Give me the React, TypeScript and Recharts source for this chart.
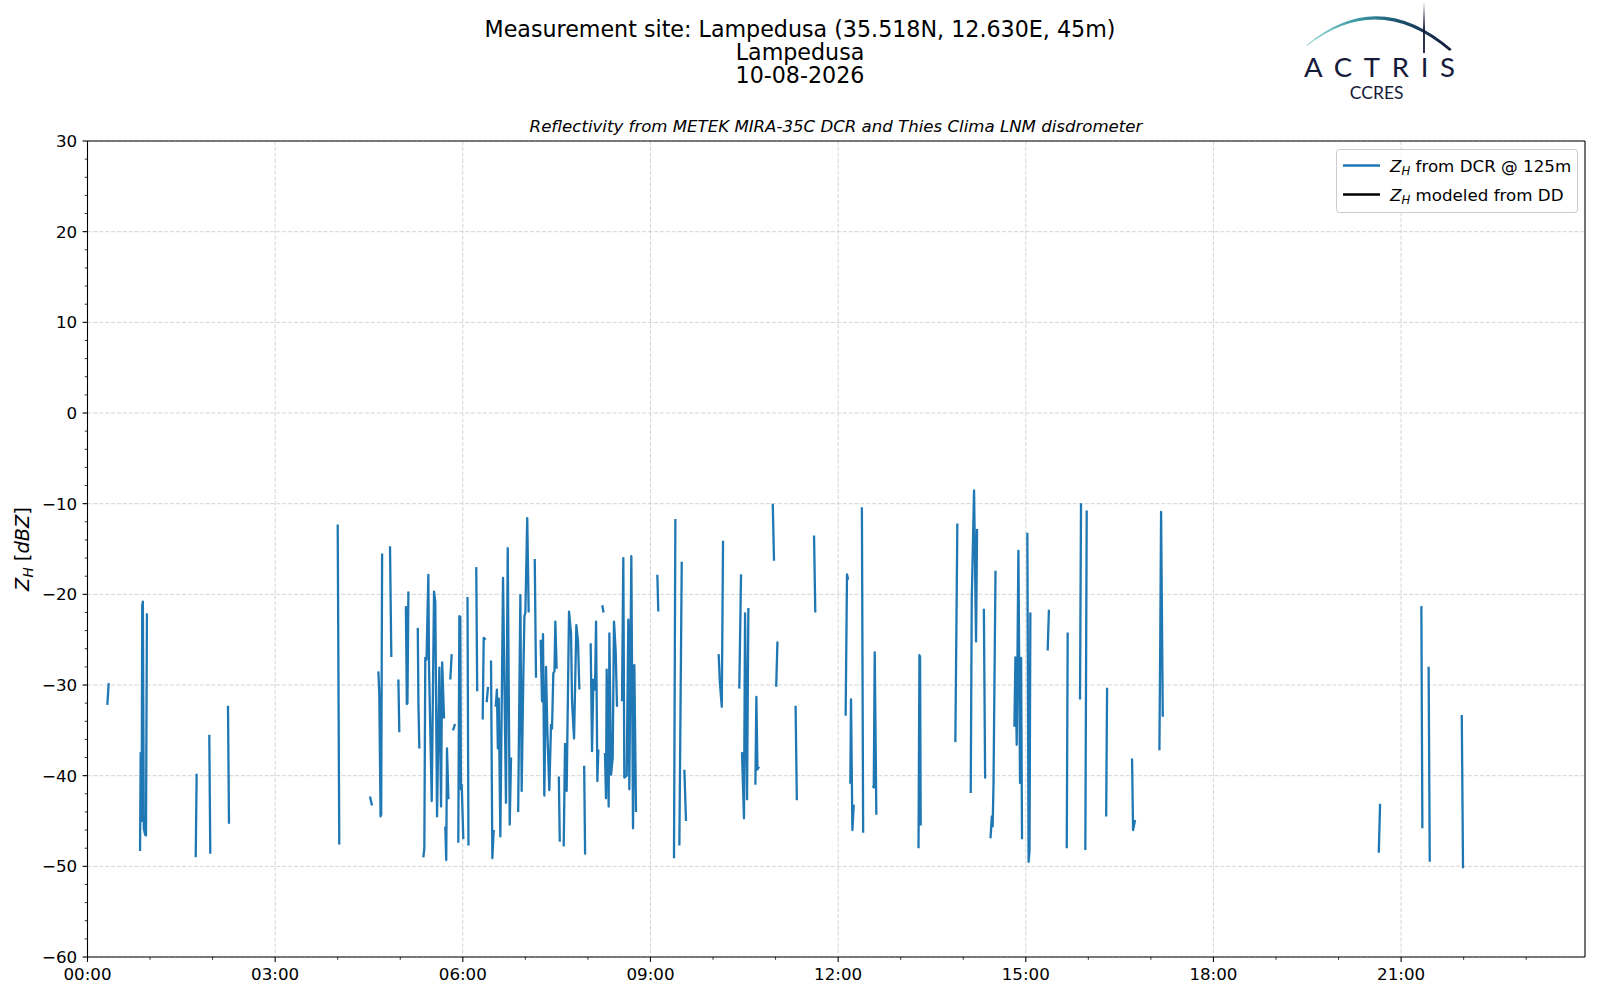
import React from 'react'
import { LineChart, Line, XAxis, YAxis, CartesianGrid, ReferenceLine } from 'recharts'

// DCR reflectivity at 125 m, [hour of day, dBZ]; each inner list is one contiguous piece
const seg00to03 = [
  [[0.317, -32.2], [0.339, -29.8]],
  [[0.84, -48.3], [0.85, -37.5], [0.865, -45.0], [0.875, -21.2], [0.885, -20.8], [0.9, -45.8], [0.92, -46.5], [0.935, -46.6], [0.95, -22.1]],
  [[1.73, -49.0], [1.745, -39.8]],
  [[1.947, -35.5], [1.963, -48.6]],
  [[2.246, -32.3], [2.262, -45.3]],
]

const seg03to06 = [
  [[4.0, -12.3], [4.025, -47.6]],
  [[4.516, -42.3], [4.548, -43.3]],
  [[4.65, -28.5], [4.665, -31.0], [4.685, -44.5], [4.695, -44.3], [4.71, -15.5]],
  [[4.836, -14.7], [4.857, -26.9]],
  [[4.97, -29.4], [4.985, -35.2]],
  [[5.09, -21.3], [5.105, -32.1], [5.115, -32.0], [5.13, -19.7]],
  [[5.28, -23.7], [5.29, -31.9], [5.305, -37.0]],
  [[5.369, -49.0], [5.385, -48.0], [5.4, -27.0], [5.42, -27.2], [5.449, -17.85], [5.46, -28.1], [5.503, -42.8], [5.54, -19.7], [5.56, -20.8], [5.588, -44.5], [5.625, -28.1], [5.652, -43.4], [5.67, -27.5], [5.7, -33.7]],
  [[5.72, -45.6], [5.735, -49.3], [5.747, -37.0], [5.77, -42.6]],
  [[5.8, -29.4], [5.822, -26.6]],
  [[5.843, -35.0], [5.875, -34.3]],
  [[5.928, -47.4], [5.945, -22.4], [5.96, -22.5], [5.97, -41.5], [5.982, -41.0], [6.008, -47.0]],
]

const seg06to09 = [
  [[6.075, -20.3], [6.09, -47.7]],
  [[6.215, -17.0], [6.23, -30.7]],
  [[6.318, -33.8], [6.334, -24.8], [6.366, -25.0]],
  [[6.382, -31.9], [6.403, -30.2]],
  [[6.451, -27.3], [6.472, -49.1], [6.494, -46.0]],
  [[6.526, -32.4], [6.545, -30.5], [6.56, -37.0], [6.575, -31.5], [6.6, -46.7], [6.62, -33.5], [6.643, -18.2], [6.69, -43.0], [6.718, -14.9], [6.75, -45.4], [6.771, -38.0]],
  [[6.885, -44.0], [6.92, -20.1], [6.941, -41.7], [6.968, -28.7], [6.985, -22.4], [7.0, -22.0], [7.03, -11.6], [7.053, -22.0]],
  [[7.15, -16.1], [7.17, -29.2]],
  [[7.245, -25.0], [7.266, -31.8], [7.282, -24.4], [7.303, -42.2], [7.33, -28.0], [7.351, -35.0], [7.383, -41.6], [7.41, -34.4], [7.426, -34.8], [7.447, -28.7], [7.465, -28.5], [7.479, -23.0], [7.5, -28.2]],
  [[7.535, -40.1], [7.55, -47.3]],
  [[7.613, -47.8], [7.634, -36.5], [7.66, -41.7], [7.698, -21.9], [7.73, -24.3], [7.746, -31.8], [7.778, -35.9], [7.815, -23.4], [7.842, -25.3], [7.863, -30.5]],
  [[7.94, -38.9], [7.955, -48.7]],
  [[8.044, -25.4], [8.066, -37.3], [8.087, -29.4], [8.113, -30.5], [8.13, -23.0], [8.151, -40.6], [8.167, -37.1]],
  [[8.23, -21.2], [8.25, -22.0]],
  [[8.273, -37.5], [8.289, -42.5], [8.3, -28.3], [8.332, -43.4], [8.343, -24.3], [8.37, -39.9], [8.396, -38.0], [8.417, -23.0], [8.444, -26.3], [8.465, -32.4]],
  [[8.545, -31.8], [8.566, -16.0], [8.582, -40.2], [8.62, -40.0], [8.646, -22.8], [8.662, -41.5], [8.694, -15.8], [8.721, -45.8], [8.742, -27.8], [8.769, -44.0]],
]

const seg09to12 = [
  [[9.11, -17.85], [9.125, -21.9]],
  [[9.376, -49.1], [9.398, -11.7]],
  [[9.462, -47.7], [9.5, -16.4]],
  [[9.542, -39.35], [9.568, -45.0]],
  [[10.09, -26.6], [10.11, -29.8], [10.14, -32.4], [10.16, -14.1]],
  [[10.42, -30.4], [10.448, -17.8]],
  [[10.463, -37.4], [10.495, -44.7], [10.512, -22.1], [10.544, -42.6], [10.565, -21.5]],
  [[10.677, -41.0], [10.693, -31.3], [10.71, -39.3], [10.735, -39.0]],
  [[10.955, -10.0], [10.975, -16.3]],
  [[11.01, -30.2], [11.03, -25.2]],
  [[11.32, -32.3], [11.34, -42.7]],
  [[11.615, -13.5], [11.635, -22.0]],
]

const seg12to15 = [
  [[12.12, -33.4], [12.142, -17.8], [12.16, -18.4]],
  [[12.195, -40.9], [12.206, -31.6], [12.228, -46.0], [12.25, -43.2]],
  [[12.38, -10.4], [12.4, -46.3]],
  [[12.553, -41.1], [12.57, -41.3], [12.585, -26.4], [12.611, -44.3]],
  [[13.285, -48.0], [13.3, -26.7], [13.31, -26.9], [13.32, -45.5]],
  [[13.874, -36.3], [13.906, -12.2]],
  [[14.12, -41.9], [14.136, -20.6], [14.173, -8.55], [14.205, -25.2], [14.221, -12.8]],
  [[14.33, -21.6], [14.35, -40.3]],
  [[14.436, -46.9], [14.457, -44.5], [14.47, -45.6], [14.484, -41.0], [14.516, -17.4]],
  [[14.818, -34.6], [14.834, -26.95], [14.855, -36.6], [14.882, -15.2], [14.908, -40.8], [14.925, -27.0], [14.94, -47.0]],
]

const seg15to18 = [
  [[15.025, -13.2], [15.045, -49.5], [15.06, -48.3], [15.073, -22.0]],
  [[15.35, -26.2], [15.37, -21.7]],
  [[15.655, -48.0], [15.67, -24.2]],
  [[15.867, -31.6], [15.883, -9.95]],
  [[15.952, -48.2], [15.974, -10.75]],
  [[16.285, -44.5], [16.3, -30.3]],
  [[16.699, -38.1], [16.715, -46.0], [16.747, -44.9]],
  [[17.136, -37.2], [17.15, -25.0], [17.163, -10.9], [17.19, -33.5]],
]

const seg18to24 = [
  [[20.643, -48.5], [20.664, -43.1]],
  [[21.324, -21.3], [21.34, -45.8]],
  [[21.44, -28.0], [21.458, -49.5]],
  [[21.97, -33.3], [21.99, -50.2]],
]

// nothing modeled from the disdrometer on this day
const ddZh: [number, number][] = []

const seriesNames = ['from DCR @ 125m', 'modeled from DD']
const seriesColors = ['#1f77b4', '#000000']

const xMajor = [0, 3, 6, 9, 12, 15, 18, 21]
const xLabels = ['00:00', '03:00', '06:00', '09:00', '12:00', '15:00', '18:00', '21:00']
const xMinor = [1, 2, 4, 5, 7, 8, 10, 11, 13, 14, 16, 17, 19, 20, 22, 23]
const yMajor = [-60, -50, -40, -30, -20, -10, 0, 10, 20, 30]

const FONT = 'DejaVu Sans, sans-serif'

const segments = [...seg00to03, ...seg03to06, ...seg06to09, ...seg09to12, ...seg12to15, ...seg15to18, ...seg18to24]
const rows: { t: number; zh: number | null; dd?: number | null }[] = []
segments.forEach(seg => {
  seg.forEach(([t, z]) => rows.push({ t, zh: z }))
  rows.push({ t: seg[seg.length - 1][0] + 0.002, zh: null })
})
ddZh.forEach(([t, z]) => rows.push({ t, zh: null, dd: z }))

const xTicks = [...xMajor, ...xMinor].sort((a, b) => a - b)
const yTicks: number[] = []
for (let v = -60; v <= 30; v += 2) yTicks.push(v)

const minus = (v: number) => (v < 0 ? '\u2212' + Math.abs(v) : String(v))

function XTick({ x, y, payload }: any) {
  const i = xMajor.indexOf(payload.value)
  const major = i >= 0
  return (
    <g>
      <line x1={x} x2={x} y1={y} y2={y + (major ? 4.9 : 2.8)} stroke="#000" strokeWidth={major ? 1.1 : 0.8} />
      {major && (
        <text x={x} y={y + 23} textAnchor="middle" fontSize={16.7} fontFamily={FONT} fill="#000">
          {xLabels[i]}
        </text>
      )}
    </g>
  )
}

function YTick({ x, y, payload }: any) {
  const major = payload.value % 10 === 0
  return (
    <g>
      <line x1={x} x2={x - (major ? 4.9 : 2.8)} y1={y} y2={y} stroke="#000" strokeWidth={major ? 1.1 : 0.8} />
      {major && (
        <text x={x - 10.3} y={y + 6} textAnchor="end" fontSize={16.7} fontFamily={FONT} fill="#000">
          {minus(payload.value)}
        </text>
      )}
    </g>
  )
}

function LegendBox() {
  return (
    <g transform="translate(1336,149)">
      <rect x={0.5} y={0.5} width={241} height={63} rx={3} fill="#fff" fillOpacity={0.8} stroke="#cccccc" strokeWidth={1} />
      {seriesNames.map((name, i) => {
        const cy = 16.5 + i * 29
        return (
          <g key={i}>
            <line x1={7} x2={44} y1={cy} y2={cy} stroke={seriesColors[i]} strokeWidth={2.3} />
            <text x={54} y={cy + 6} fontSize={16.7} fontFamily={FONT} fill="#000">
              <tspan fontStyle="italic">Z</tspan>
              <tspan fontStyle="italic" fontSize={11.7} dy={3}>H</tspan>
              <tspan dy={-3}>{' ' + name}</tspan>
            </text>
          </g>
        )
      })}
    </g>
  )
}

function Header() {
  return (
    <svg width={1600} height={1000} style={{ position: 'absolute', left: 0, top: 0, pointerEvents: 'none' }}>
      <defs>
        <linearGradient id="arcGrad" x1="1306" y1="0" x2="1452" y2="0" gradientUnits="userSpaceOnUse">
          <stop offset="0" stopColor="#8fd3cf" />
          <stop offset="0.35" stopColor="#3a9aa6" />
          <stop offset="0.65" stopColor="#1d4f6e" />
          <stop offset="1" stopColor="#141a3a" />
        </linearGradient>
        <linearGradient id="mastGrad" x1="0" y1="2" x2="0" y2="28" gradientUnits="userSpaceOnUse">
          <stop offset="0" stopColor="#141a3a" stopOpacity="0" />
          <stop offset="1" stopColor="#141a3a" />
        </linearGradient>
      </defs>
      <g fontFamily={FONT} fill="#000" textAnchor="middle">
        <text x={800} y={36.5} fontSize={22.2}>Measurement site: Lampedusa (35.518N, 12.630E, 45m)</text>
        <text x={800} y={59.5} fontSize={22.2}>Lampedusa</text>
        <text x={800} y={82.5} fontSize={22.2}>10-08-2026</text>
        <text x={836} y={131.5} fontSize={16.6} fontStyle="italic">
          Reflectivity from METEK MIRA-35C DCR and Thies Clima LNM disdrometer
        </text>
      </g>
      <text transform="translate(29,549) rotate(-90)" textAnchor="middle" fontFamily={FONT} fontSize={19.4} fill="#000">
        <tspan fontStyle="italic">Z</tspan>
        <tspan fontStyle="italic" fontSize={13.6} dy={3.5}>H</tspan>
        <tspan dy={-3.5}> [</tspan>
        <tspan fontStyle="italic">dBZ</tspan>
        <tspan>]</tspan>
      </text>
      <path d="M1306.7,45 Q1378,-14.5 1451.7,49.3 L1449.6,51 Q1378,-9.5 1306.7,46 Z" fill="url(#arcGrad)" />
      <line x1={1424} x2={1424} y1={2} y2={53} stroke="url(#mastGrad)" strokeWidth={1.8} />
      <text x={1304} y={76.5} fontSize={27.5} fontFamily="Lato, sans-serif" fill="#161a3b" textLength={151} lengthAdjust="spacing">
        ACTRIS
      </text>
      <text x={1376.7} y={99.3} fontSize={17.5} fontFamily="Lato, sans-serif" textAnchor="middle" fill="#161a3b">
        CCRES
      </text>
      <LegendBox />
    </svg>
  )
}

export default function App() {
  return (
    <div style={{ position: 'absolute', left: 0, top: 0, width: 1600, height: 1000, background: '#fff' }}>
      <LineChart width={1600} height={1000} data={rows} margin={{ top: 141, right: 15, bottom: 13, left: 0 }}>
        <CartesianGrid stroke="#d0d0d0" strokeWidth={0.9} strokeDasharray="4.1 1.8" horizontalValues={yMajor} verticalValues={xMajor} />
        <XAxis
          dataKey="t"
          type="number"
          domain={[0, 23.94]}
          ticks={xTicks}
          interval={0}
          height={30}
          tickSize={0}
          tickMargin={0}
          tickLine={false}
          tick={<XTick />}
          axisLine={{ stroke: '#000', strokeWidth: 1.1 }}
          allowDataOverflow
        />
        <YAxis
          type="number"
          domain={[-60, 30]}
          ticks={yTicks}
          interval={0}
          width={87.5}
          tickSize={0}
          tickMargin={0}
          tickLine={false}
          tick={<YTick />}
          axisLine={{ stroke: '#000', strokeWidth: 1.1 }}
          allowDataOverflow
        />
        <ReferenceLine y={30} stroke="#000" strokeWidth={1.1} />
        <ReferenceLine x={23.94} stroke="#000" strokeWidth={1.1} />
        <Line
          dataKey="zh"
          name={'Z_H ' + seriesNames[0]}
          stroke={seriesColors[0]}
          strokeWidth={2.3}
          strokeLinejoin="round"
          dot={false}
          activeDot={false}
          connectNulls={false}
          isAnimationActive={false}
        />
        <Line
          dataKey="dd"
          name={'Z_H ' + seriesNames[1]}
          stroke={seriesColors[1]}
          strokeWidth={2.3}
          dot={false}
          activeDot={false}
          connectNulls={false}
          isAnimationActive={false}
        />
      </LineChart>
      <Header />
    </div>
  )
}
